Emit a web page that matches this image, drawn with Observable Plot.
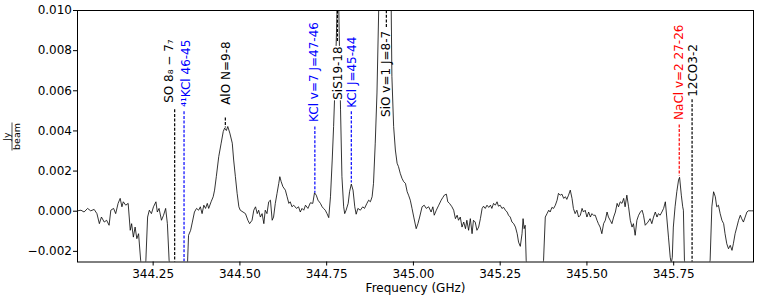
<!DOCTYPE html>
<html>
<head>
<meta charset="utf-8">
<script src="https://cdn.jsdelivr.net/npm/d3@7"></script>
<script src="https://cdn.jsdelivr.net/npm/@observablehq/plot@0.6"></script>
<style>
  html, body { margin: 0; padding: 0; background: white; }
  #chart svg { display: block; }
</style>
</head>
<body>
<div id="chart"></div>
<script>
// Spectrum: frequency (GHz) and flux density (Jy/beam); values below the frame are estimates
const freq = [
  344.032, 344.042, 344.051, 344.061, 344.070, 344.080, 344.088, 344.095, 344.101, 344.109,
  344.116, 344.123, 344.128, 344.136, 344.142, 344.149, 344.155, 344.160, 344.164, 344.171,
  344.178, 344.184, 344.188, 344.193, 344.198, 344.203, 344.208, 344.214, 344.221, 344.229,
  344.234, 344.239, 344.245, 344.251, 344.258, 344.262, 344.267, 344.274, 344.280, 344.286,
  344.291, 344.296, 344.323, 344.349, 344.352, 344.358, 344.363,
  344.369, 344.375, 344.381, 344.386, 344.391, 344.396, 344.401, 344.406, 344.410, 344.417,
  344.423, 344.427, 344.432, 344.439, 344.446, 344.452, 344.456, 344.461, 344.465, 344.471,
  344.478, 344.482, 344.487, 344.492, 344.497, 344.501, 344.509, 344.516, 344.523, 344.528,
  344.535, 344.540, 344.545, 344.550, 344.554, 344.559, 344.564, 344.569, 344.573, 344.578,
  344.583, 344.588, 344.593, 344.597, 344.602, 344.607, 344.612, 344.615, 344.619, 344.624,
  344.631, 344.636, 344.641, 344.645, 344.650, 344.655, 344.663, 344.669, 344.674, 344.679,
  344.684,
  344.689, 344.696, 344.703, 344.710, 344.715, 344.720, 344.725, 344.732, 344.737, 344.741,
  344.746, 344.751, 344.756, 344.761, 344.766, 344.770, 344.775, 344.780, 344.782, 344.785,
  344.790, 344.794, 344.799, 344.802, 344.806, 344.812, 344.816, 344.821, 344.826, 344.831,
  344.835, 344.840, 344.847, 344.854, 344.859, 344.866, 344.871, 344.876, 344.881, 344.885,
  344.890, 344.895, 344.900, 344.917, 344.936, 344.938, 344.943, 344.948, 344.953, 344.957,
  344.962, 344.967, 344.972, 344.977, 344.982, 344.986, 344.991, 344.996, 345.001, 345.008,
  345.013, 345.018,
  345.025, 345.031, 345.037, 345.044, 345.051, 345.056, 345.060, 345.066, 345.073, 345.080,
  345.085, 345.089, 345.095, 345.099, 345.104, 345.111, 345.116, 345.121, 345.126, 345.130,
  345.135, 345.140, 345.145, 345.150, 345.154, 345.159, 345.164, 345.169, 345.173, 345.178,
  345.183, 345.188, 345.193, 345.198, 345.202, 345.207, 345.212, 345.217, 345.222, 345.226,
  345.231, 345.236, 345.241, 345.245, 345.250, 345.255, 345.260, 345.265, 345.270, 345.274,
  345.279, 345.284, 345.289, 345.294, 345.299, 345.303, 345.308, 345.313, 345.316, 345.319,
  345.322, 345.325, 345.348, 345.375,
  345.380, 345.385, 345.390, 345.394, 345.399, 345.404, 345.409, 345.414, 345.418, 345.423,
  345.428, 345.433, 345.438, 345.442, 345.447, 345.452, 345.457, 345.461, 345.466, 345.471,
  345.476, 345.481, 345.486, 345.490, 345.495, 345.500, 345.505, 345.510, 345.514, 345.519,
  345.524, 345.529, 345.533, 345.538, 345.543, 345.548, 345.553, 345.558, 345.562, 345.567,
  345.572, 345.577, 345.582, 345.587, 345.591, 345.596, 345.601, 345.606, 345.610, 345.615,
  345.620, 345.625, 345.630, 345.634, 345.639, 345.644, 345.649, 345.654, 345.659, 345.663,
  345.668,
  345.676, 345.682, 345.687, 345.692, 345.697, 345.702, 345.706, 345.711, 345.716, 345.721,
  345.726, 345.730, 345.735, 345.740, 345.743, 345.746, 345.749, 345.754, 345.759, 345.764,
  345.767, 345.772, 345.776, 345.778, 345.781, 345.818, 345.855, 345.860, 345.865, 345.870,
  345.874, 345.879, 345.884, 345.889, 345.894, 345.898, 345.903, 345.908, 345.913, 345.918,
  345.922, 345.927, 345.932, 345.937, 345.942, 345.946, 345.951, 345.956, 345.961, 345.965,
  345.975, 345.980
];
const flux = [
  0.00002, 0.00005, -0.00004, 0.00014, 0.00002, 0.00009, -0.00012, -0.00062, -0.00029, -0.00054,
  -0.00045, -0.00070, 0.00005, 0.00014, -0.00012, 0.00039, 0.00064, 0.00022, 0.00047, 0.00030,
  0.00039, -0.00095, -0.00062, -0.00129, -0.00079, -0.00137, -0.00112, -0.00245, -0.00400, -0.00245,
  -0.00029, 0.00005, -0.00012, 0.00022, 0.00047, -0.00004, 0.00014, -0.00045, -0.00020, 0.00014,
  -0.00062, -0.00245, -0.00500, -0.00260, -0.00120, -0.00095, -0.00054,
  -0.00004, 0.00014, 0.00005, 0.00022, -0.00012, 0.00030, 0.00014, 0.00039, 0.00014, 0.00047,
  0.00072, 0.00105, 0.00172, 0.00272, 0.00339, 0.00397, 0.00414, 0.00402, 0.00422, 0.00389,
  0.00339, 0.00255, 0.00172, 0.00089, 0.00022, 0.00005, -0.00004, -0.00012, -0.00045, -0.00062,
  -0.00045, 0.00005, 0.00022, -0.00012, 0.00005, -0.00029, -0.00012, -0.00062, 0.00005, -0.00012,
  0.00047, 0.00055, -0.00045, -0.00029, 0.00039, 0.00089, 0.00139, 0.00172, 0.00147, 0.00122,
  0.00105, 0.00072, 0.00039, 0.00047, 0.00022, 0.00030, 0.00014, 0.00022, -0.00004, 0.00014,
  0.00005,
  0.00030, 0.00014, 0.00042, 0.00039, 0.00092, 0.00080, 0.00055, 0.00039, 0.00022, 0.00014,
  0.00005, -0.00012, -0.00032, 0.00072, 0.00255, 0.00422, 0.00672, 0.01005, 0.01400, 0.01005,
  0.00505, 0.00172, 0.00022, -0.00012, 0.00005, 0.00039, 0.00097, 0.00135, 0.00105, 0.00022,
  -0.00015, 0.00014, 0.00005, 0.00022, 0.00014, 0.00039, 0.00055, 0.00047, 0.00072, 0.00139,
  0.00339, 0.00589, 0.01005, 0.02000, 0.01005, 0.00672, 0.00422, 0.00305, 0.00239, 0.00222,
  0.00189, 0.00164, 0.00147, 0.00139, 0.00097, 0.00080, 0.00055, 0.00014, -0.00029, -0.00087,
  -0.00062, -0.00029,
  0.00022, 0.00030, 0.00014, 0.00022, -0.00004, 0.00022, -0.00020, 0.00005, 0.00030, 0.00055,
  0.00069, 0.00080, 0.00085, 0.00047, 0.00039, 0.00022, 0.00005, -0.00037, -0.00020, -0.00045,
  -0.00029, -0.00079, -0.00054, -0.00087, -0.00045, -0.00095, -0.00037, -0.00112, -0.00045, -0.00054,
  -0.00095, -0.00079, -0.00037, 0.00014, 0.00025, 0.00014, 0.00030, 0.00019, 0.00030, 0.00014,
  0.00039, 0.00030, 0.00047, 0.00025, 0.00030, 0.00014, 0.00019, 0.00005, -0.00004, -0.00020,
  -0.00029, -0.00054, -0.00062, -0.00079, -0.00112, -0.00154, -0.00175, -0.00112, -0.00037, -0.00087,
  -0.00070, -0.00245, -0.00500, -0.00245,
  -0.00029, -0.00012, 0.00005, -0.00004, 0.00019, 0.00014, 0.00030, 0.00055, 0.00089, 0.00080,
  0.00085, 0.00064, 0.00072, 0.00059, 0.00080, 0.00105, 0.00064, 0.00014, -0.00012, 0.00005,
  -0.00029, -0.00020, 0.00014, -0.00004, 0.00005, -0.00029, -0.00004, -0.00029, -0.00012, -0.00020,
  -0.00020, -0.00045, -0.00062, -0.00079, -0.00112, -0.00062, -0.00045, -0.00004, -0.00029, -0.00045,
  -0.00062, -0.00029, -0.00004, 0.00039, 0.00022, 0.00047, 0.00039, 0.00064, 0.00022, 0.00080,
  0.00022, -0.00045, -0.00079, -0.00062, -0.00120, -0.00045, -0.00020, -0.00004, 0.00005, -0.00020,
  -0.00070,
  -0.00054, -0.00037, -0.00062, -0.00029, -0.00004, -0.00029, -0.00012, -0.00020, -0.00004, 0.00014,
  0.00047, -0.00029, -0.00129, -0.00229, -0.00260, -0.00229, -0.00079, 0.00022, 0.00097, 0.00155,
  0.00169, 0.00080, 0.00022, 0.00005, -0.00245, -0.00500, -0.00245, 0.00022, 0.00097, 0.00072,
  0.00022, 0.00030, -0.00012, -0.00045, -0.00062, -0.00112, -0.00162, -0.00187, -0.00170, -0.00195,
  -0.00162, -0.00112, -0.00079, -0.00045, -0.00020, -0.00037, -0.00054, -0.00029, -0.00004, 0.00002,
  0.00002, 0.00002
];

// Line identifications
const labelNames = ["SO 8\u2088 \u2212 7\u2087", "\u2074\u00b9KCl 46-45", "AlO N=9-8", "KCl v=7 J=47-46",
  "SiS19-18", "KCl J=45-44", "SiO v=1 J=8-7", "NaCl v=2 27-26", "12CO3-2"];
const labelFreqs = [344.312, 344.339, 344.458, 344.716, 344.781, 344.821, 344.922, 345.766, 345.803];
const labelTextFreqs = [344.296, 344.344, 344.459, 344.715, 344.782, 344.823, 344.921, 345.767, 345.805];
const labelTextBase = [0.0054, 0.0052, 0.0053, 0.00445, 0.00555, 0.00515, 0.0047, 0.00455, 0.0057];
const labelLineStart = [0.00505, 0.00495, 0.00465, 0.0042, 0.00845, 0.00495, 0.00915, 0.0043, 0.00555];
const labelLineEnd = [-0.003, -0.003, 0.00415, 0.0009, 0.011, 0.0014, 0.011, 0.00175, -0.003];
const labelColors = ["black", "blue", "black", "blue", "black", "blue", "black", "red", "black"];

const xTicks = [344.25, 344.5, 344.75, 345.0, 345.25, 345.5, 345.75];
const yTicks = [-0.002, 0.0, 0.002, 0.004, 0.006, 0.008, 0.010];

const spectrum = freq.map((f, i) => ({f, v: flux[i]}));
const labels = labelNames.map((name, i) => ({
  name, f: labelFreqs[i], tf: labelTextFreqs[i], base: labelTextBase[i],
  y1: labelLineStart[i], y2: labelLineEnd[i], color: labelColors[i]
}));

const font = "DejaVu Sans, sans-serif";
const chart = Plot.plot({
  width: 761,
  height: 299,
  marginLeft: 77,
  marginRight: 8,
  marginTop: 10,
  marginBottom: 37.5,
  x: {domain: [344.032, 345.98]},
  y: {domain: [-0.00253, 0.010]},
  color: {type: "identity"},
  style: {fontFamily: font, fontSize: "12px", color: "black", background: "white"},
  marks: [
    Plot.line(spectrum, {x: "f", y: "v", stroke: "black", strokeWidth: 0.8, clip: true}),
    Plot.ruleX(labels, {x: "f", y1: "y1", y2: "y2", stroke: "color", strokeWidth: 1.2,
      strokeDasharray: "3,1.6", clip: true}),
    Plot.text(labels, {x: "tf", y: "base", text: "name", fill: "color", rotate: -90,
      textAnchor: "start", lineAnchor: "middle", fontSize: 12}),
    Plot.frame({stroke: "black", strokeWidth: 1}),
    Plot.axisX({ticks: xTicks, tickFormat: d3.format(".2f"), tickSize: 4, tickPadding: 3,
      label: null, fontSize: 12}),
    Plot.axisY({ticks: yTicks, tickFormat: d3.format(".3f"), tickSize: 4, tickPadding: 1.5,
      label: null, fontSize: 12}),
    Plot.text(["Frequency (GHz)"], {frameAnchor: "bottom", dy: 26, lineAnchor: "middle", fontSize: 12})
  ]
});

document.getElementById("chart").appendChild(chart);
const svg = d3.select(chart);

// white box behind each rotated line label (like a text bbox), hiding the spectrum under it
svg.selectAll("text").filter(function () {
  const t = this.getAttribute("transform") || "";
  return t.includes("rotate");
}).each(function () {
  const node = this;
  const b = node.getBBox();
  d3.select(node.parentNode).insert("rect", () => node)
    .attr("transform", node.getAttribute("transform"))
    .attr("x", b.x - 0.5)
    .attr("width", b.width + 1)
    .attr("y", -5.2)
    .attr("height", 10)
    .attr("fill", "white");
});

// y-axis label as a fraction Jy / beam
const g = svg.append("g")
  .attr("transform", "translate(12,136.5) rotate(-90)")
  .attr("font-family", font)
  .attr("font-size", 9.5)
  .attr("fill", "black");
g.append("text").attr("text-anchor", "middle").attr("y", -2.5).text("Jy");
g.append("line").attr("x1", -14).attr("x2", 14).attr("stroke", "black").attr("stroke-width", 0.7);
g.append("text").attr("text-anchor", "middle").attr("y", 7.5).text("beam");
</script>
</body>
</html>
